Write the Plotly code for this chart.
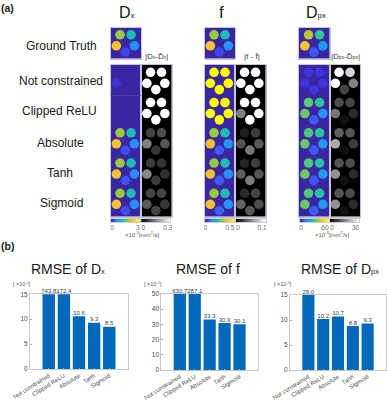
import plotly.graph_objects as go

W, H = 387, 400
FONT = "Liberation Sans"

METHODS = ["Not constrained", "Clipped ReLU", "Absolute", "Tanh", "Sigmoid"]

# Phantom layout (pixels relative to the centre of a cell)
CIRCLE_X = [-5.7, 5.3, -9.4, 8.6, -0.4]
CIRCLE_Y = [-8.0, -8.0, 3.0, 3.0, 9.3]

# Ground truth values: top-left, top-right, left, right, bottom
GT_DX = [1.86, 1.26, 2.34, 0.75, 0.30]
GT_F = [0.31, 0.21, 0.39, 0.125, 0.05]
GT_DPX = [40, 30, 47, 17, 8]

# Estimated maps per method
MAP_DX = [
    [0.02, 0.02, 0.16, 0.01, 0.01],
    [0.00, 0.00, 0.00, 0.00, 0.00],
    [1.86, 1.26, 2.34, 0.72, 0.33],
    [1.86, 1.26, 2.34, 0.72, 0.36],
    [1.86, 1.26, 2.31, 0.72, 0.33],
]
MAP_F = [
    [0.5, 0.5, 0.5, 0.5, 0.5],
    [0.5, 0.5, 0.5, 0.5, 0.5],
    [0.31, 0.22, 0.38, 0.13, 0.07],
    [0.31, 0.22, 0.38, 0.13, 0.07],
    [0.31, 0.22, 0.38, 0.13, 0.07],
]
MAP_DPX = [
    [4, 4, 4, 4, 4],
    [33, 29, 34, 16, 8],
    [32, 28, 34, 17, 8],
    [32, 28, 34, 17, 8],
    [32, 28, 34, 17, 8],
]

# Absolute error per method
ERR_DX = [
    [0.3, 0.3, 0.3, 0.3, 0.3],
    [0.3, 0.3, 0.3, 0.3, 0.3],
    [0.08, 0.09, 0.15, 0.10, 0.065],
    [0.07, 0.06, 0.16, 0.055, 0.07],
    [0.08, 0.08, 0.105, 0.065, 0.08],
]
ERR_F = [
    [0.1, 0.1, 0.1, 0.1, 0.1],
    [0.1, 0.1, 0.05, 0.1, 0.1],
    [0.012, 0.024, 0.033, 0.035, 0.047],
    [0.014, 0.024, 0.037, 0.033, 0.049],
    [0.016, 0.027, 0.039, 0.031, 0.035],
]
ERR_DPX = [
    [30, 25, 30, 15, 8],
    [9, 8, 14, 5, 2],
    [11, 10, 20, 7, 2],
    [10, 9, 17, 5, 2],
    [10, 9, 17, 5, 2],
]

# RMSE bars
RMSE_DX = [743.8, 172.4, 10.6, 9.3, 8.5]
RMSE_F = [630.7, 287.1, 33.3, 30.9, 30.1]
RMSE_DPX = [29.0, 10.2, 10.7, 8.8, 9.3]

PARULA = [
    [0.0, "rgb(58,38,160)"], [0.06, "rgb(62,50,215)"], [0.125, "rgb(66,85,245)"],
    [0.25, "rgb(40,145,245)"], [0.375, "rgb(15,180,200)"], [0.5, "rgb(50,200,150)"],
    [0.625, "rgb(160,200,60)"], [0.75, "rgb(245,190,50)"], [0.875, "rgb(250,215,40)"],
    [1.0, "rgb(255,255,0)"],
]
GRAY = [[0, "rgb(0,0,0)"], [1, "rgb(255,255,255)"]]
FRAME = "rgb(196,196,216)"

fig = go.Figure()
layout = {"shapes": []}
axis_id = [0]


def fx(px):
    return px / W


def fy(px):
    return 1 - px / H


def new_axes(x0, x1, y0, y1, xr, yr, **kw):
    axis_id[0] += 1
    n = axis_id[0]
    s = "" if n == 1 else str(n)
    base = dict(showline=True, mirror=True, linewidth=1, zeroline=False, showgrid=False, automargin=False)
    xa = dict(domain=[fx(x0), fx(x1)], range=xr, anchor="y" + s, **base)
    ya = dict(domain=[fy(y1), fy(y0)], range=yr, anchor="x" + s, **base)
    xa.update(kw.get("x", {}))
    ya.update(kw.get("y", {}))
    layout["xaxis" + s] = xa
    layout["yaxis" + s] = ya
    return "x" + s, "y" + s


def image_axes(x0, x1, y0, y1, bg):
    hw, hh = (x1 - x0) / 2, (y1 - y0)
    style = dict(showticklabels=False, ticks="", linecolor=FRAME)
    xn, yn = new_axes(x0, x1, y0, y1, [-hw, hw], [hh, 0], x=style, y=style)
    layout["shapes"].append(dict(type="rect", xref=xn + " domain", yref=yn + " domain",
                                 x0=0, x1=1, y0=0, y1=1, fillcolor=bg, line_width=0, layer="below"))
    return xn, yn


def circles(xa, ya, rows, scale, vmax, pitch=30.25, first=15.3):
    xs, ys, cs = [], [], []
    for r, vals in enumerate(rows):
        for cx, cy, v in zip(CIRCLE_X, CIRCLE_Y, vals):
            xs.append(cx)
            ys.append(first + r * pitch + cy)
            cs.append(v)
    marker = dict(size=9.6, color=cs, colorscale=scale, cmin=0, cmax=vmax, line_width=0, showscale=False)
    fig.add_trace(go.Scatter(x=xs, y=ys, mode="markers", marker=marker, xaxis=xa, yaxis=ya,
                             hoverinfo="skip", showlegend=False))


def strip(x0, x1, vmax, scale, ticks, labels):
    n = 40
    grid = [vmax * i / (n - 1) for i in range(n)]
    xn, yn = new_axes(x0, x1, 218.7, 222.3, [0, vmax], [0, 1],
                      x=dict(tickmode="array", tickvals=ticks, ticktext=labels, ticks="", ticklabelstandoff=-1,
                             linecolor="rgb(205,205,205)",
                             tickfont=dict(family=FONT, size=6.5, color="rgb(110,110,110)")),
                      y=dict(showticklabels=False, ticks="", linecolor="rgb(205,205,205)"))
    fig.add_trace(go.Heatmap(x=grid, y=[0, 1], z=[grid, grid], colorscale=scale, zmin=0, zmax=vmax,
                             showscale=False, xaxis=xn, yaxis=yn, hoverinfo="skip"))


COLUMNS = [
    (110.5, GT_DX, MAP_DX, ERR_DX, 3, 0.3, "3", "0.3",
     (110.7, 139.3, 0.05, 0.95), (141.3, 170.3, 0.07, 0.91)),
    (204.5, GT_F, MAP_F, ERR_F, 0.5, 0.1, "0.5", "0.1",
     (205.0, 234.3, 0.02, 0.85), (236.0, 265.7, 0.07, 0.88)),
    (299.0, GT_DPX, MAP_DPX, ERR_DPX, 60, 30, "60", "30",
     (300.0, 328.7, 0.04, 0.87), (330.0, 359.3, 0.07, 0.87)),
]

PANEL_W = 30.5
for idx, (left, gt, mp, er, vmax, emax, vlab, elab, cb1, cb2) in enumerate(COLUMNS):
    xa, ya = image_axes(left, left + PANEL_W, 27.5, 58.5, "rgb(58,38,160)")
    circles(xa, ya, [gt], PARULA, vmax)
    xa, ya = image_axes(left, left + PANEL_W, 65, 216.5, "rgb(58,38,160)")
    circles(xa, ya, mp, PARULA, vmax)
    if idx == 0:
        layout["shapes"].append(dict(type="line", xref=xa + " domain", yref=ya, x0=0, x1=1, y0=30.5, y1=30.5,
                                     line=dict(color="rgb(78,62,170)", width=1), layer="above"))
    xa, ya = image_axes(left + PANEL_W, left + 2 * PANEL_W, 65, 216.5, "rgb(0,0,0)")
    circles(xa, ya, er, GRAY, emax)
    strip(cb1[0], cb1[1], vmax, PARULA, [cb1[2] * vmax, cb1[3] * vmax], ["0", vlab])
    strip(cb2[0], cb2[1], emax, GRAY, [cb2[2] * emax, cb2[3] * emax], ["0", elab])

# Bar charts
BAR_PANELS = [
    (30.0, 128.0, 294.3, 369.0, RMSE_DX, 15, [0, 5, 10, 15], "[ ×10<sup>-3</sup>]", 22),
    (161.3, 258.0, 294.0, 370.0, RMSE_F, 50, [0, 10, 20, 30, 40, 50], "[ ×10<sup>-1</sup>]", 153),
    (290.0, 386.0, 295.0, 370.0, RMSE_DPX, 15, [0, 5, 10, 15], "[ ×10<sup>-2</sup>]", 283),
]
YTICKF = dict(family=FONT, size=6.5, color="rgb(75,75,75)")
XTICKF = dict(family=FONT, size=6, color="rgb(75,75,75)")
for x0, x1, y0, y1, vals, ymax, yt, cap, capx in BAR_PANELS:
    axs = dict(linecolor="rgb(200,200,200)", ticks="inside", ticklen=1.5,
               tickcolor="rgb(170,170,170)", tickwidth=1)
    xn, yn = new_axes(x0, x1, y0, y1, [-1.24, 5.24], [0, ymax],
                      x=dict(type="category", categoryorder="array", categoryarray=METHODS, tickfont=XTICKF,
                             tickangle=-32, tickmode="array", tickvals=METHODS, ticktext=METHODS, **axs),
                      y=dict(tickmode="array", tickvals=yt, tickfont=YTICKF, **axs))
    fig.add_trace(go.Bar(x=METHODS, y=vals, width=0.82, marker=dict(color="rgb(2,104,186)", line_width=0),
                         xaxis=xn, yaxis=yn, showlegend=False, hoverinfo="skip"))
    fig.add_trace(go.Scatter(x=METHODS, y=[min(v, ymax) for v in vals], mode="text",
                             text=[f"{v:.1f}" for v in vals], textposition="top center",
                             textfont=dict(family=FONT, size=6, color="rgb(60,60,60)"),
                             cliponaxis=False, xaxis=xn, yaxis=yn, showlegend=False, hoverinfo="skip"))


def note(text, x, y, size, color="rgb(25,25,25)", xanchor="center"):
    return dict(text=text, xref="paper", yref="paper", x=fx(x), y=fy(y), xanchor=xanchor, yanchor="middle",
                showarrow=False, font=dict(family=FONT, size=size, color=color), align="center",
                borderpad=0, borderwidth=0)


def small(t, size):
    return f'<span style="font-size:{size}px">{t}</span>'


ann = [
    note("<b>(a)</b>", 0.5, 8, 10.5, xanchor="left"),
    note("<b>(b)</b>", 0.5, 246, 10.5, xanchor="left"),
    note("D" + small("x", 8), 126.5, 13, 16),
    note("f", 221, 13, 17),
    note("D" + small("px", 8), 316, 12, 16),
    note("Ground Truth", 61, 46.5, 12),
    note("Not constrained", 61, 80.5, 12),
    note("Clipped ReLU", 59, 110.5, 12),
    note("Absolute", 60, 143, 12),
    note("Tanh", 60, 173, 12),
    note("Sigmoid", 61, 203, 12),
    note("|D" + small("x", 5) + "-D\u0302" + small("x", 5) + "|", 156.5, 57, 8, "rgb(60,60,60)"),
    note("|f - f\u0302|", 251.5, 56, 8, "rgb(60,60,60)"),
    note("|D" + small("px", 5) + "-D\u0302" + small("px", 5) + "|", 345, 57, 8, "rgb(60,60,60)"),
    note("×10<sup>-3</sup>[mm<sup>2</sup>/s]", 142, 234, 6, "rgb(90,90,90)"),
    note("×10<sup>-3</sup>[mm<sup>2</sup>/s]", 332, 234, 6, "rgb(90,90,90)"),
    note("RMSE of D" + small("x", 7.5), 68, 269, 14),
    note("RMSE of f", 207.7, 269, 14),
    note("RMSE of D" + small("px", 7.5), 340, 269, 14),
]
for *_, cap, capx in BAR_PANELS:
    ann.append(note(cap, capx, 284, 5.5, "rgb(90,90,90)"))

fig.update_layout(width=W, height=H, margin=dict(l=0, r=0, t=0, b=0, pad=0), autosize=False,
                  paper_bgcolor="white", plot_bgcolor="rgba(0,0,0,0)", showlegend=False,
                  annotations=ann, **layout)

fig.write_html("out.html", config={"displayModeBar": False},
               post_script="document.body.style.margin='0';document.documentElement.style.overflow='hidden';")
